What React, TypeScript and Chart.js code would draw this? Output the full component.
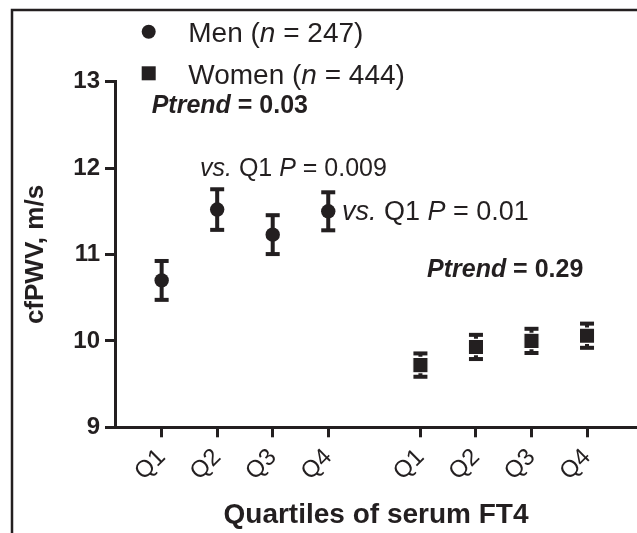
import React, { useEffect, useRef } from "react";
import { Chart, registerables } from "chart.js";

Chart.register(...registerables);

// ---- data ----
const quartileLabels = ["Q1", "Q2", "Q3", "Q4", "Q1", "Q2", "Q3", "Q4"];
const menX = [1, 2, 3, 4];
const womenX = [5.66, 6.66, 7.66, 8.66];
const menMean = [10.7, 11.52, 11.23, 11.5];
const menErr = [0.225, 0.235, 0.225, 0.22];
const womenMean = [9.72, 9.93, 10.0, 10.06];
const womenErr = [0.135, 0.14, 0.14, 0.14];
const yTicks = [9, 10, 11, 12, 13];

const INK = "#231f20";
const FONT = "'Liberation Sans', Arial, Helvetica, sans-serif";

type Part = [string, boolean?];

function drawRich(
  ctx: CanvasRenderingContext2D,
  parts: Part[],
  x: number,
  y: number,
  size: number,
  bold: boolean
) {
  let cx = x;
  ctx.textAlign = "left";
  ctx.textBaseline = "alphabetic";
  ctx.fillStyle = INK;
  for (const [t, it] of parts) {
    ctx.font = `${it ? "italic " : ""}${bold ? "bold " : ""}${size}px ${FONT}`;
    ctx.fillText(t, cx, y);
    cx += ctx.measureText(t).width;
  }
}

const errorBarPlugin = {
  id: "errorBars",
  beforeDatasetsDraw(chart: any) {
    const ctx = chart.ctx as CanvasRenderingContext2D;
    const ys = chart.scales.y;
    const errs = [menErr, womenErr];
    const means = [menMean, womenMean];
    ctx.save();
    ctx.fillStyle = INK;
    chart.data.datasets.forEach((_: any, di: number) => {
      const meta = chart.getDatasetMeta(di);
      meta.data.forEach((pt: any, i: number) => {
        const x = pt.x;
        const top = ys.getPixelForValue(means[di][i] + errs[di][i]);
        const bot = ys.getPixelForValue(means[di][i] - errs[di][i]);
        ctx.fillRect(x - 2, top, 4, bot - top);
        ctx.fillRect(x - 7, top - 2, 14, 4);
        ctx.fillRect(x - 7, bot - 2, 14, 4);
      });
    });
    ctx.restore();
  },
};

const decorPlugin = {
  id: "decor",
  afterDraw(chart: any) {
    const ctx = chart.ctx as CanvasRenderingContext2D;
    ctx.save();
    // frame
    ctx.strokeStyle = INK;
    ctx.lineWidth = 2.5;
    ctx.beginPath();
    ctx.moveTo(12, 540);
    ctx.lineTo(12, 10);
    ctx.lineTo(640, 10);
    ctx.stroke();
    // legend
    ctx.fillStyle = INK;
    ctx.beginPath();
    ctx.arc(148.7, 31.7, 7, 0, Math.PI * 2);
    ctx.fill();
    ctx.fillRect(141.7, 66.3, 14, 14);
    drawRich(ctx, [["Men ("], ["n", true], [" = 247)"]], 188.3, 42, 28, false);
    drawRich(ctx, [["Women ("], ["n", true], [" = 444)"]], 188.3, 83.5, 28, false);
    // annotations
    drawRich(ctx, [["Ptrend", true], [" = 0.03"]], 151.7, 113.3, 25, true);
    drawRich(ctx, [["vs.", true], [" Q1 "], ["P", true], [" = 0.009"]], 200, 176, 25, false);
    drawRich(ctx, [["vs.", true], [" Q1 "], ["P", true], [" = 0.01"]], 342, 219.7, 27, false);
    drawRich(ctx, [["Ptrend", true], [" = 0.29"]], 427, 277, 25, true);
    ctx.restore();
  },
};

export default function App() {
  const ref = useRef<HTMLCanvasElement>(null);
  useEffect(() => {
    document.body.style.margin = "0";
    const chart = new Chart(ref.current!, {
      type: "scatter",
      data: {
        datasets: [
          {
            label: "Men",
            data: menX.map((x, i) => ({ x, y: menMean[i] })),
            pointStyle: "circle",
            pointRadius: 7.2,
            pointBackgroundColor: INK,
            pointBorderWidth: 0,
            showLine: false,
          },
          {
            label: "Women",
            data: womenX.map((x, i) => ({ x, y: womenMean[i] })),
            pointStyle: "rect",
            pointRadius: 10.8,
            pointBackgroundColor: INK,
            pointBorderColor: "#ffffff",
            pointBorderWidth: 1.2,
            showLine: false,
          },
        ],
      },
      options: {
        animation: false,
        responsive: false,
        maintainAspectRatio: false,
        layout: { autoPadding: false, padding: { top: 81.7, left: 0, right: 0, bottom: 0 } },
        plugins: { legend: { display: false }, tooltip: { enabled: false } },
        scales: {
          x: {
            type: "linear",
            min: 0.16,
            max: 9.56,
            afterFit: (s: any) => {
              s.height = 105.7;
              s.paddingLeft = 0;
              s.paddingRight = 0;
            },
            afterBuildTicks: (s: any) => {
              s.ticks = [...menX, ...womenX].map((v) => ({ value: v }));
            },
            ticks: {
              autoSkip: false,
              maxRotation: 45,
              minRotation: 45,
              padding: 6,
              color: INK,
              font: { family: FONT, size: 24 },
              callback: (_v: any, i: number) => quartileLabels[i],
            },
            grid: {
              display: true,
              drawOnChartArea: false,
              drawTicks: true,
              tickLength: 10,
              tickWidth: 3,
              tickColor: INK,
            },
            border: { display: true, color: INK, width: 3 },
            title: {
              display: true,
              text: "Quartiles of serum FT4",
              color: INK,
              font: { family: FONT, size: 28, weight: "bold" },
              padding: { top: 0, bottom: 1 },
            },
          },
          y: {
            min: 9,
            max: 13,
            afterFit: (s: any) => {
              s.width = 115;
              s.paddingTop = 0;
              s.paddingBottom = 0;
            },
            afterBuildTicks: (s: any) => {
              s.ticks = yTicks.map((v) => ({ value: v }));
            },
            ticks: {
              padding: 5,
              color: INK,
              font: { family: FONT, size: 24, weight: "bold" },
            },
            grid: {
              display: true,
              drawOnChartArea: false,
              drawTicks: true,
              tickLength: 10,
              tickWidth: 3,
              tickColor: INK,
            },
            border: { display: true, color: INK, width: 3 },
            title: {
              display: true,
              text: "cfPWV, m/s",
              color: INK,
              font: { family: FONT, size: 26, weight: "bold" },
              padding: { top: 20, bottom: 0 },
            },
          },
        },
      },
      plugins: [errorBarPlugin, decorPlugin],
    } as any);
    return () => chart.destroy();
  }, []);
  return <canvas ref={ref} width={637} height={533} style={{ display: "block" }} />;
}
